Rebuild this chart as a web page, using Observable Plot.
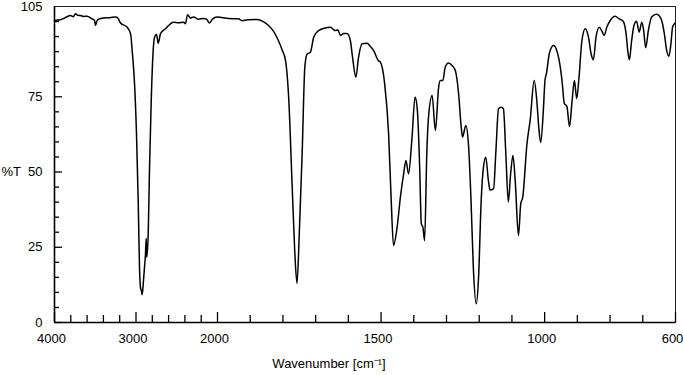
<!DOCTYPE html>
<html>
<head>
<meta charset="utf-8">
<script src="https://cdn.jsdelivr.net/npm/d3@7"></script>
<script src="https://cdn.jsdelivr.net/npm/@observablehq/plot@0.6"></script>
<style>
  html, body { margin: 0; padding: 0; background: #fff; }
  #chart svg { display: block; }
</style>
</head>
<body>
<div id="chart"></div>
<script>
// ---- data ----
const wavenumber = [
  4000, 3963, 3926, 3890, 3853, 3804, 3770, 3742, 3715, 3681, 3640, 3599, 3546, 3510, 3497, 3480, 3460, 3399, 3320, 3252, 3227, 3190,
  3108, 3067, 3047, 3018, 2994, 2973, 2957, 2945, 2933, 2924, 2908, 2896, 2884, 2875, 2868, 2850,
  2834, 2813, 2794, 2773, 2748, 2728, 2699, 2638, 2540, 2478, 2417, 2393, 2368, 2331, 2294,
  2233, 2172, 2135, 2098, 2061, 2004,
  1966, 1936, 1925, 1908, 1879, 1860, 1844, 1829, 1814, 1802, 1792, 1782, 1772, 1764, 1757,
  1750, 1741, 1733, 1726, 1716, 1706, 1691, 1673, 1655, 1640, 1632, 1624, 1614, 1604, 1594,
  1587, 1577, 1569, 1558, 1543, 1533, 1523, 1508, 1502, 1489, 1477, 1469, 1462, 1451, 1441,
  1431, 1424, 1416, 1406, 1396, 1389, 1382, 1377, 1372, 1367, 1360, 1355, 1344, 1334, 1324,
  1319, 1311, 1304, 1294, 1283, 1273, 1263, 1255, 1251, 1241, 1233, 1225, 1218, 1209, 1202,
  1194, 1187, 1180, 1172, 1167, 1156, 1149, 1141, 1133, 1126, 1119, 1111, 1104, 1097, 1090,
  1080, 1073, 1067, 1054, 1044, 1032, 1024, 1018, 1012, 1004, 999, 994, 986, 973, 963,
  953, 946, 940, 932, 924, 916, 909, 902, 895, 886, 876, 866, 858, 851, 843,
  833, 825, 818, 810, 798, 785, 772, 760, 751, 746, 741, 734, 727, 719, 711,
  703, 698, 691, 683, 673, 658, 644, 634, 627, 620, 614, 609, 605, 601
];
const transmittance = [
  100.3, 100.5, 100.6, 101.0, 101.5, 102.0, 101.6, 102.6, 102.1, 102.0, 101.7, 101.8, 101.0, 100.4, 98.7, 100.2, 100.8, 101.2, 101.3, 101.5, 101.3, 99.5,
  98.1, 96.0, 90.4, 79.4, 62.8, 40.5, 18.3, 11.7, 10.5, 9.2, 14.0, 18.3, 22.5, 28.0, 21.7, 29.5,
  51.6, 73.8, 88.0, 94.8, 95.8, 92.8, 96.0, 97.6, 99.8, 99.6, 99.8, 99.3, 102.3, 101.2, 101.5,
  100.8, 101.0, 100.8, 99.5, 100.8, 101.5,
  101.0, 100.9, 100.3, 100.6, 100.7, 100.0, 98.7, 96.8, 93.7, 90.5, 87.0, 73.8, 46.0, 24.0, 13.0,
  29.5, 57.0, 85.0, 89.2, 89.8, 94.8, 97.0, 97.8, 98.1, 97.0, 97.2, 95.4, 96.0, 96.0, 93.7,
  88.0, 81.5, 88.0, 92.6, 92.8, 91.8, 90.4, 87.0, 86.5, 79.3, 62.7, 40.5, 25.6, 31.6, 41.6,
  49.4, 53.8, 49.4, 60.5, 74.9, 70.4, 51.6, 32.8, 31.6, 27.2, 57.0, 68.2, 75.4, 63.8, 78.2,
  80.4, 80.4, 84.8, 86.2, 85.4, 83.7, 76.0, 64.9, 61.6, 65.5, 59.4, 40.5, 18.3, 6.2, 15.0,
  40.5, 51.6, 54.9, 47.2, 44.0, 44.5, 57.0, 71.0, 71.5, 71.0, 57.0, 40.0, 49.4, 55.5, 47.2,
  28.9, 39.5, 41.6, 59.4, 67.5, 80.4, 73.8, 64.9, 59.8, 70.4, 80.4, 83.0, 89.2, 92.0, 90.4,
  85.4, 79.4, 72.8, 71.8, 65.1, 73.8, 80.4, 74.4, 81.4, 93.7, 97.6, 94.8, 89.3, 87.3, 94.8,
  98.1, 96.8, 95.4, 98.1, 100.6, 101.8, 100.9, 100.1, 95.9, 90.4, 87.3, 93.7, 98.7, 100.1, 96.5,
  99.8, 97.6, 91.3, 97.0, 101.5, 102.4, 100.9, 95.9, 90.4, 88.5, 92.6, 98.1, 99.0, 99.5
];

// axis ticks and labels
const xMajorTicks = [4000, 3000, 2000, 1500, 1000, 600];
const xMinorTicks = [3800, 3600, 3400, 3200, 2800, 2600, 2400, 2200, 1900, 1800, 1700, 1600, 1400, 1300, 1200, 1100, 900, 800, 700];
const xTickLabels = [4000, 3000, 2000, 1500, 1000, 600];
const yMajorTicks = [0, 25, 50, 75];
const yMinorTicks = [5, 10, 15, 20, 30, 35, 40, 45, 55, 60, 65, 70, 80, 85, 90, 95, 100];
const yTickLabels = [0, 25, 50, 75, 105];
const yTitle = "%T";
const xTitle = "Wavenumber [cm\u207B\u00B9]";

const spectrum = wavenumber.map((w, i) => ({w, t: transmittance[i]}));

// ---- layout ----
const W = 683, H = 375;
const mL = 54, mR = 8, mT = 6, mB = 53;
const plotW = W - mL - mR, plotH = H - mT - mB;
const font = "'Liberation Sans', Arial, Helvetica, sans-serif";

const chart = Plot.plot({
  width: W,
  height: H,
  marginLeft: mL,
  marginRight: mR,
  marginTop: mT,
  marginBottom: mB,
  style: {fontFamily: font, fontSize: "13px", background: "#fff", color: "#000"},
  x: {type: "linear", domain: [4000, 2000, 600], range: [mL, mL + 163, W - mR], axis: null},
  y: {domain: [0, 105], axis: null},
  marks: [
    Plot.frame({stroke: "#222", strokeWidth: 1}),
    // inward ticks on the bottom axis
    Plot.tickX(xMajorTicks, {x: d => d, insetTop: plotH - 10, stroke: "#000", strokeWidth: 1.3}),
    Plot.tickX(xMinorTicks, {x: d => d, insetTop: plotH - 7, stroke: "#000", strokeWidth: 1.3}),
    // inward ticks on the left axis
    Plot.tickY(yMajorTicks, {y: d => d, insetRight: plotW - 8, stroke: "#000", strokeWidth: 1.3}),
    Plot.tickY(yMinorTicks, {y: d => d, insetRight: plotW - 5, stroke: "#000", strokeWidth: 1.3}),
    // axis lines
    Plot.ruleX([4000], {stroke: "#000", strokeWidth: 1.6}),
    Plot.ruleY([0], {stroke: "#000", strokeWidth: 1.6}),
    // spectrum
    Plot.line(spectrum, {x: "w", y: "t", curve: "monotone-x", stroke: "#000", strokeWidth: 1.5}),
    // tick labels
    Plot.text(xTickLabels, {x: d => d, y: 0, text: d => String(d), dy: 16.5, dx: -3, fontSize: 13, fill: "#000"}),
    Plot.text(yTickLabels, {x: 4000, y: d => d, text: d => String(d), dx: -12, textAnchor: "end", fontSize: 13, fill: "#000"}),
    // axis titles
    Plot.text([yTitle], {x: 4000, y: 50, text: d => d, dx: -53, textAnchor: "start", fontSize: 13, fill: "#000"}),
    Plot.text([xTitle], {frameAnchor: "bottom", text: d => d, dx: -36, dy: 45, fontSize: 13, fill: "#000"})
  ]
});

document.getElementById("chart").appendChild(chart);
</script>
</body>
</html>
